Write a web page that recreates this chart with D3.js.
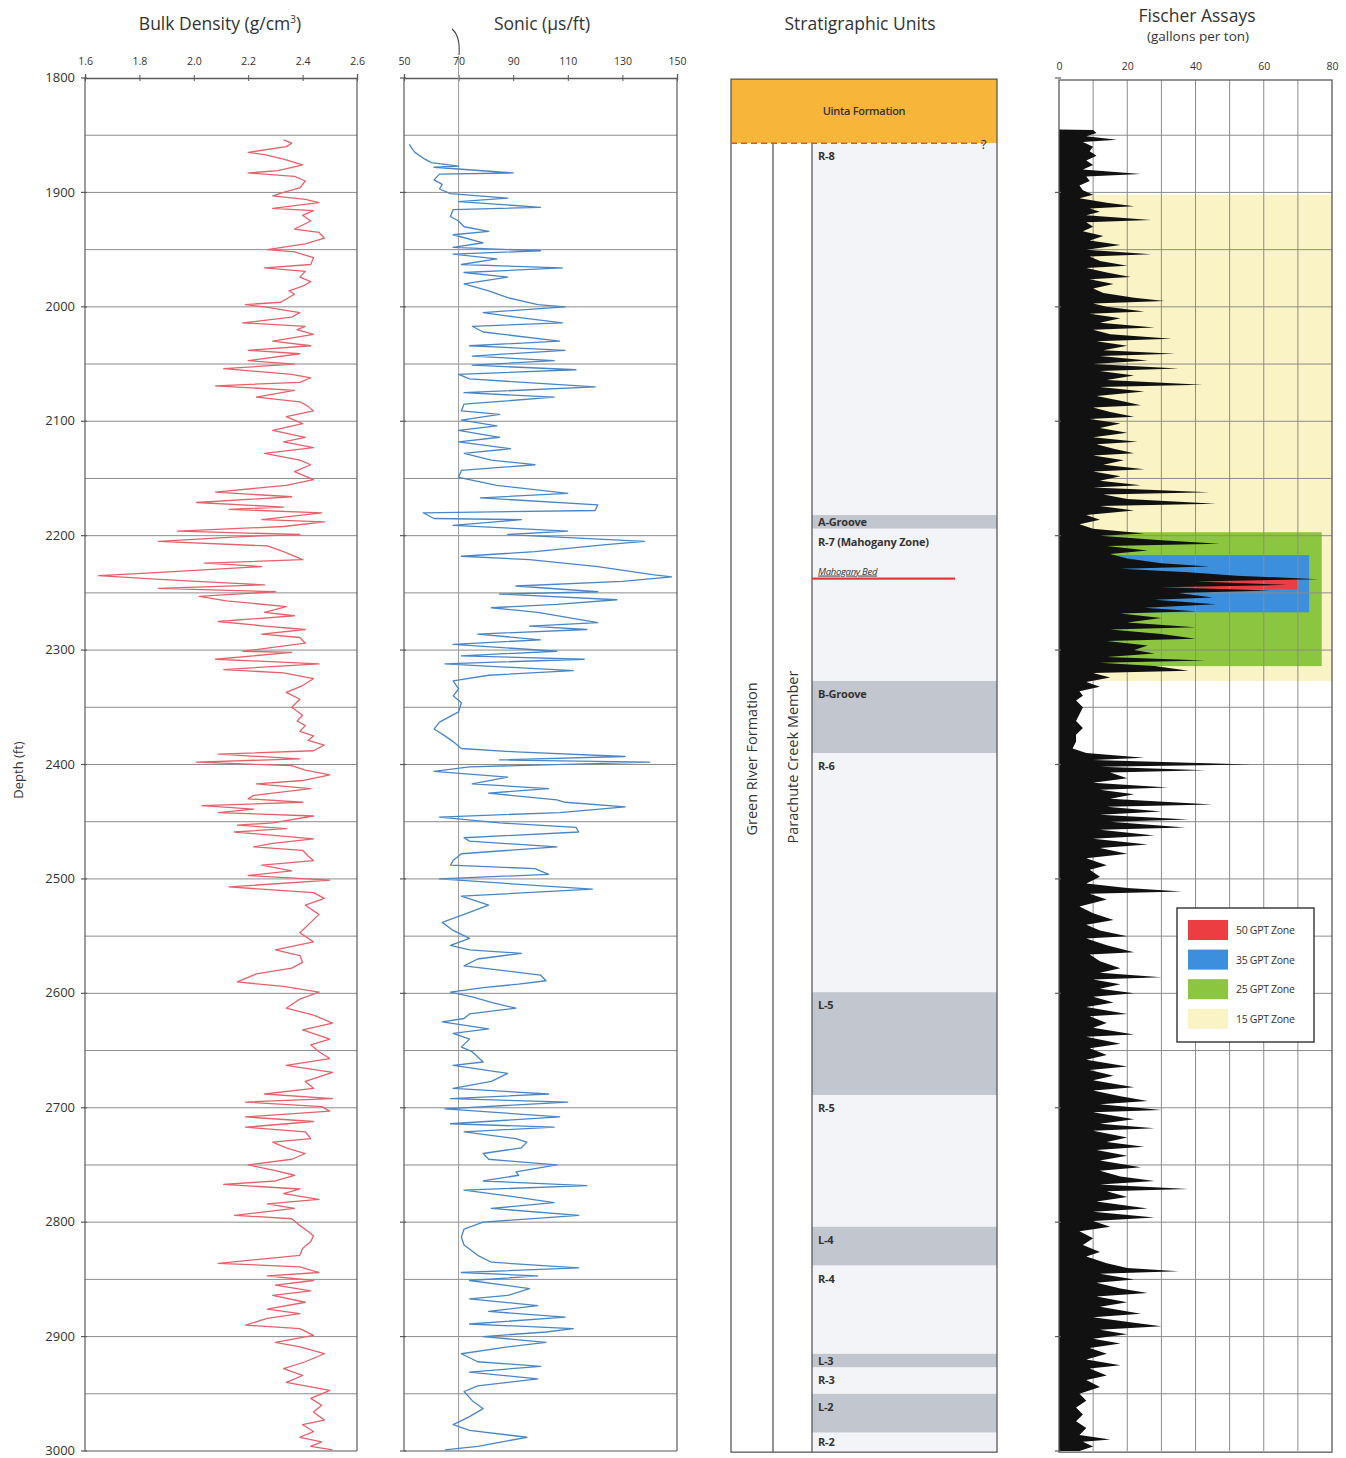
<!DOCTYPE html>
<html>
<head>
<meta charset="utf-8">
<script src="https://cdn.jsdelivr.net/npm/d3@7"></script>
<style>
  body { margin: 0; background: #fff; }
  svg text { font-family: "Open Sans", "Noto Sans", sans-serif; fill: #333; }
</style>
</head>
<body>
<svg id="chart" width="1346" height="1458"></svg>
<script>
// ---------- Data ----------
// Depth tick labels (ft) and 50-ft grid depths
const depthTicks = [1800, 1900, 2000, 2100, 2200, 2300, 2400, 2500, 2600, 2700, 2800, 2900, 3000];
const gridDepths = [1850, 1900, 1950, 2000, 2050, 2100, 2150, 2200, 2250, 2300, 2350, 2400, 2450,
                    2500, 2550, 2600, 2650, 2700, 2750, 2800, 2850, 2900, 2950];
const densityTicks = [1.6, 1.8, 2.0, 2.2, 2.4, 2.6];
const sonicTicks = [50, 70, 90, 110, 130, 150];
const fischerTicks = [0, 20, 40, 60, 80];
const fischerGrid = [10, 20, 30, 40, 50, 60, 70];

// Bulk density log: [depth ft, g/cm3]
const densityLog = [
  [1854,2.33],[1857,2.36],[1860,2.34],[1865,2.20],[1867,2.26],[1871,2.33],[1876,2.40],[1881,2.31],
  [1883,2.20],[1886,2.37],[1890,2.41],[1896,2.39],[1900,2.33],[1903,2.29],[1906,2.41],[1909,2.46],
  [1914,2.29],[1916,2.44],[1920,2.40],[1925,2.43],[1932,2.37],[1935,2.46],[1940,2.48],[1945,2.41],
  [1950,2.27],[1952,2.37],[1957,2.44],[1963,2.43],[1966,2.26],[1969,2.41],[1974,2.39],[1978,2.43],
  [1982,2.40],[1986,2.35],[1989,2.37],[1996,2.32],[1998,2.19],[2000,2.26],[2005,2.39],[2009,2.36],
  [2014,2.18],[2017,2.41],[2020,2.38],[2024,2.44],[2030,2.29],[2034,2.43],[2038,2.20],[2041,2.39],
  [2047,2.20],[2050,2.37],[2054,2.11],[2059,2.36],[2062,2.43],[2066,2.39],[2069,2.08],[2073,2.37],
  [2079,2.23],[2083,2.39],[2087,2.42],[2091,2.44],[2096,2.34],[2102,2.40],[2108,2.29],[2114,2.41],
  [2118,2.33],[2123,2.44],[2128,2.26],[2134,2.39],[2138,2.43],[2144,2.37],[2151,2.44],[2156,2.34],
  [2162,2.08],[2166,2.36],[2171,2.01],[2175,2.33],[2177,2.13],[2180,2.47],[2186,2.25],[2188,2.48],
  [2192,2.33],[2196,1.94],[2199,2.39],[2201,2.16],[2205,1.87],[2209,2.27],[2214,2.33],[2221,2.40],
  [2224,2.04],[2227,2.25],[2233,1.81],[2235,1.65],[2238,1.86],[2240,2.01],[2243,2.26],[2246,1.87],
  [2249,2.30],[2253,2.02],[2257,2.12],[2262,2.34],[2267,2.26],[2270,2.37],[2275,2.09],[2279,2.26],
  [2282,2.41],[2286,2.25],[2289,2.39],[2294,2.41],[2301,2.18],[2302,2.36],[2308,2.08],[2312,2.46],
  [2317,2.11],[2320,2.33],[2325,2.44],[2331,2.40],[2337,2.34],[2343,2.39],[2350,2.36],[2357,2.40],
  [2362,2.38],[2366,2.41],[2371,2.39],[2375,2.44],[2379,2.42],[2383,2.48],[2388,2.44],[2391,2.09],
  [2395,2.39],[2398,2.01],[2401,2.36],[2405,2.41],[2409,2.50],[2414,2.40],[2417,2.23],[2421,2.43],
  [2427,2.22],[2430,2.20],[2433,2.40],[2436,2.03],[2439,2.22],[2442,2.09],[2445,2.44],[2451,2.29],
  [2453,2.16],[2456,2.34],[2459,2.15],[2465,2.44],[2469,2.29],[2472,2.22],[2475,2.40],[2480,2.42],
  [2484,2.44],[2488,2.25],[2493,2.36],[2497,2.20],[2501,2.50],[2507,2.13],[2512,2.44],[2517,2.48],
  [2523,2.41],[2531,2.46],[2538,2.43],[2547,2.39],[2555,2.44],[2562,2.30],[2567,2.39],[2573,2.40],
  [2578,2.36],[2583,2.23],[2590,2.16],[2594,2.33],[2599,2.46],[2605,2.39],[2613,2.34],[2619,2.44],
  [2626,2.51],[2632,2.40],[2640,2.50],[2645,2.43],[2651,2.46],[2657,2.50],[2663,2.34],[2669,2.51],
  [2677,2.41],[2683,2.44],[2688,2.26],[2692,2.51],[2695,2.19],[2699,2.47],[2703,2.50],[2708,2.19],
  [2712,2.44],[2717,2.19],[2721,2.41],[2727,2.43],[2730,2.29],[2735,2.34],[2740,2.41],[2745,2.36],
  [2750,2.20],[2755,2.30],[2759,2.37],[2764,2.30],[2767,2.11],[2771,2.39],[2775,2.33],[2780,2.46],
  [2784,2.27],[2788,2.37],[2794,2.15],[2797,2.36],[2803,2.39],[2808,2.42],[2812,2.44],[2817,2.43],
  [2823,2.40],[2829,2.39],[2836,2.09],[2839,2.39],[2844,2.46],[2847,2.27],[2851,2.44],[2855,2.30],
  [2860,2.43],[2864,2.29],[2870,2.41],[2876,2.27],[2880,2.39],[2884,2.27],[2890,2.19],[2893,2.39],
  [2899,2.44],[2905,2.30],[2909,2.39],[2915,2.48],[2922,2.41],[2928,2.33],[2934,2.40],[2940,2.34],
  [2947,2.50],[2954,2.43],[2960,2.47],[2966,2.44],[2973,2.48],[2977,2.40],[2983,2.44],[2988,2.39],
  [2992,2.47],[2996,2.43],[2999,2.51]
];

// Sonic log: [depth ft, microseconds per ft]
const sonicLog = [
  [1858,52],[1862,53],[1865,54],[1870,57],[1874,60],[1877,70],[1878,61],[1883,90],[1884,63],
  [1889,61],[1893,64],[1897,63],[1901,67],[1905,88],[1908,70],[1913,100],[1915,68],[1921,67],
  [1925,70],[1930,72],[1934,81],[1937,68],[1944,79],[1948,68],[1951,100],[1954,68],[1958,84],
  [1963,71],[1966,108],[1970,72],[1974,88],[1980,72],[1986,81],[1992,88],[1998,99],[2000,109],
  [2005,79],[2009,91],[2014,108],[2017,75],[2022,79],[2030,107],[2034,74],[2038,109],[2043,75],
  [2047,105],[2051,75],[2055,113],[2059,70],[2063,74],[2070,120],[2075,72],[2079,105],[2085,72],
  [2091,71],[2094,85],[2099,71],[2104,84],[2108,70],[2114,85],[2118,70],[2124,89],[2128,72],
  [2134,82],[2138,98],[2143,71],[2149,70],[2156,84],[2163,110],[2167,78],[2173,121],[2178,120],
  [2180,57],[2185,61],[2186,93],[2191,68],[2196,110],[2199,88],[2205,138],[2208,123],[2214,98],
  [2218,71],[2221,96],[2227,121],[2234,141],[2236,148],[2240,130],[2244,91],[2249,121],[2251,85],
  [2256,128],[2260,106],[2263,82],[2267,99],[2276,121],[2279,96],[2282,117],[2286,77],[2291,100],
  [2295,68],[2301,106],[2305,71],[2308,116],[2312,65],[2318,112],[2322,81],[2327,68],[2334,70],
  [2340,68],[2346,71],[2354,70],[2363,63],[2369,61],[2375,65],[2380,68],[2386,71],[2389,91],
  [2393,131],[2396,85],[2398,140],[2402,74],[2406,61],[2411,88],[2417,75],[2421,103],[2425,81],
  [2431,106],[2433,109],[2437,131],[2442,107],[2446,63],[2451,85],[2455,113],[2459,114],[2464,72],
  [2467,74],[2472,106],[2478,71],[2484,68],[2488,67],[2491,98],[2496,103],[2500,63],[2509,119],
  [2515,71],[2523,81],[2531,72],[2538,64],[2545,68],[2552,74],[2558,67],[2562,74],[2565,93],
  [2570,77],[2576,72],[2584,100],[2589,102],[2592,92],[2595,79],[2599,67],[2603,75],[2608,82],
  [2613,91],[2618,74],[2622,72],[2625,64],[2631,81],[2635,68],[2640,74],[2647,71],[2651,75],
  [2660,79],[2663,68],[2670,88],[2677,82],[2683,68],[2688,103],[2692,67],[2695,110],[2701,65],
  [2708,107],[2714,67],[2717,105],[2721,72],[2727,91],[2730,95],[2735,93],[2740,79],[2745,81],
  [2750,106],[2756,91],[2759,92],[2764,79],[2768,117],[2772,72],[2777,88],[2783,105],[2788,82],
  [2794,114],[2800,79],[2806,72],[2813,71],[2820,72],[2829,77],[2835,82],[2840,114],[2844,71],
  [2847,99],[2851,74],[2858,96],[2864,88],[2867,74],[2873,99],[2878,81],[2883,109],[2889,74],
  [2893,112],[2896,102],[2900,79],[2905,102],[2909,88],[2915,71],[2922,77],[2926,100],[2931,74],
  [2937,99],[2943,77],[2948,72],[2956,75],[2963,79],[2970,74],[2977,68],[2982,74],[2988,95],
  [2992,86],[2996,77],[2999,65]
];

// Fischer assay oil yield: [depth ft, gallons per ton]
const fischerAssay = [
  [1845,0],[1845.5,10],[1848,11],[1851,8],[1854,17],[1856,7],[1860,10],[1864,9],[1868,11],[1872,8],
  [1876,10],[1880,7],[1884,24],[1886,8],[1890,9],[1894,6],[1898,7],[1902,10],[1905,6],[1909,14],
  [1912,22],[1914,9],[1917,12],[1920,8],[1924,27],[1926,8],[1930,10],[1934,7],[1938,13],[1942,9],
  [1946,18],[1950,8],[1954,27],[1956,9],[1960,12],[1964,20],[1966,8],[1970,14],[1974,21],[1976,9],
  [1980,16],[1984,10],[1988,13],[1992,22],[1995,31],[1997,10],[2000,14],[2004,25],[2006,9],[2010,18],
  [2014,12],[2018,28],[2020,10],[2024,15],[2028,33],[2030,11],[2034,20],[2038,13],[2041,34],[2043,12],
  [2047,26],[2050,10],[2054,35],[2056,12],[2060,22],[2064,14],[2068,42],[2070,12],[2074,25],[2078,11],
  [2082,18],[2086,24],[2088,10],[2092,15],[2096,22],[2098,9],[2102,18],[2106,12],[2110,20],[2114,10],
  [2118,23],[2120,11],[2124,16],[2128,22],[2130,10],[2134,19],[2138,13],[2142,25],[2144,10],[2148,18],
  [2152,12],[2156,24],[2158,10],[2162,44],[2164,13],[2168,20],[2172,46],[2174,12],[2178,22],[2182,8],
  [2186,12],[2190,6],[2194,10],[2198,25],[2200,12],[2204,30],[2207,47],[2209,14],[2213,26],[2216,15],
  [2220,20],[2224,30],[2227,44],[2229,18],[2232,38],[2235,52],[2238,76],[2240,40],[2243,67],[2245,30],
  [2248,62],[2250,35],[2254,45],[2256,28],[2260,46],[2263,25],[2266,40],[2268,18],[2272,30],[2276,20],
  [2280,40],[2282,15],[2286,30],[2290,40],[2292,14],[2296,26],[2300,22],[2303,28],[2306,14],[2309,43],
  [2311,12],[2314,28],[2318,38],[2320,10],[2324,15],[2328,8],[2332,12],[2336,6],[2340,7],[2344,5],
  [2350,7],[2356,6],[2362,5],[2368,7],[2374,5],[2380,5],[2386,4],[2390,8],[2394,25],[2396,10],
  [2400,56],[2402,12],[2405,43],[2407,15],[2412,20],[2416,10],[2420,32],[2422,12],[2426,22],[2430,15],
  [2435,45],[2437,14],[2441,30],[2444,12],[2448,38],[2450,15],[2455,37],[2457,12],[2462,28],[2465,10],
  [2470,26],[2473,12],[2478,20],[2482,8],[2488,14],[2492,9],[2498,12],[2504,8],[2508,20],[2511,36],
  [2513,9],[2518,14],[2524,6],[2530,10],[2536,16],[2540,8],[2545,12],[2550,20],[2552,8],[2558,14],
  [2564,22],[2566,9],[2572,12],[2578,18],[2582,12],[2586,30],[2588,10],[2592,18],[2596,12],[2600,22],
  [2603,10],[2608,16],[2612,8],[2618,20],[2620,9],[2626,14],[2630,10],[2636,22],[2638,8],[2644,18],
  [2648,9],[2654,14],[2658,8],[2664,20],[2667,9],[2672,16],[2676,10],[2682,22],[2685,10],[2690,18],
  [2694,26],[2697,12],[2702,30],[2704,10],[2710,22],[2714,12],[2718,28],[2720,10],[2726,20],[2730,14],
  [2734,25],[2737,11],[2742,20],[2746,12],[2752,24],[2755,12],[2760,18],[2764,28],[2767,12],[2771,38],
  [2773,14],[2778,20],[2782,11],[2788,26],[2791,10],[2796,28],[2799,10],[2804,15],[2808,6],[2814,10],
  [2820,7],[2826,12],[2830,8],[2836,14],[2840,20],[2843,35],[2845,12],[2850,22],[2853,11],[2858,18],
  [2862,26],[2865,11],[2870,20],[2874,12],[2880,24],[2883,10],[2888,22],[2891,30],[2894,12],[2898,20],
  [2902,10],[2906,18],[2910,9],[2915,14],[2920,8],[2925,18],[2928,9],[2934,14],[2938,8],[2944,12],
  [2950,6],[2956,8],[2962,5],[2968,7],[2974,5],[2980,8],[2986,6],[2990,15],[2992,7],[2996,10],[3000,6]
];

// Oil-shale grade zones (depth interval, extent in gallons per ton)
const gptZones = [
  { label: "15 GPT Zone", top: 1902, base: 2327, extent: 80, color: "#faf3c6" },
  { label: "25 GPT Zone", top: 2197, base: 2314, extent: 77, color: "#8cc540" },
  { label: "35 GPT Zone", top: 2217, base: 2267, extent: 73.3, color: "#3c8fdc" },
  { label: "50 GPT Zone", top: 2237, base: 2247, extent: 70, color: "#ec3d42" }
];
const legendOrder = ["50 GPT Zone", "35 GPT Zone", "25 GPT Zone", "15 GPT Zone"];

// Stratigraphic units (depth ft); lean zones are grey grooves
const uintaBase = 1857;
const stratUnits = [
  { name: "R-8", top: 1857, base: 2182, lean: false },
  { name: "A-Groove", top: 2182, base: 2194, lean: true },
  { name: "R-7 (Mahogany Zone)", top: 2194, base: 2327, lean: false },
  { name: "B-Groove", top: 2327, base: 2390, lean: true },
  { name: "R-6", top: 2390, base: 2599, lean: false },
  { name: "L-5", top: 2599, base: 2689, lean: true },
  { name: "R-5", top: 2689, base: 2804, lean: false },
  { name: "L-4", top: 2804, base: 2838, lean: true },
  { name: "R-4", top: 2838, base: 2915, lean: false },
  { name: "L-3", top: 2915, base: 2927, lean: true },
  { name: "R-3", top: 2927, base: 2950, lean: false },
  { name: "L-2", top: 2950, base: 2984, lean: true },
  { name: "R-2", top: 2984, base: 3000, lean: false }
];
const mahoganyBed = 2237.5;

// ---------- Layout ----------
const svg = d3.select("#chart");
const y = d3.scaleLinear().domain([1800, 3000]).range([78, 1451]);
const xDen = d3.scaleLinear().domain([1.6, 2.6]).range([85, 357]);
const xSon = d3.scaleLinear().domain([50, 150]).range([404, 677]);
const xFis = d3.scaleLinear().domain([0, 80]).range([1059, 1332]);
const strat = { x0: 731, x1: 997, c1: 773, c2: 812 };

const gridColor = "#8c8c8c", frameColor = "#5a5a5a";

// Titles
function title(x, yy, txt, size) {
  return svg.append("text").attr("x", x).attr("y", yy).attr("text-anchor", "middle")
    .attr("font-size", size).attr("fill", "#3a3a3a").text(txt);
}
const t1 = title(220, 30, "Bulk Density (g/cm", 17.5);
t1.append("tspan").attr("font-size", 10).attr("dy", -7).text("3");
t1.append("tspan").attr("dy", 7).text(")");
title(542, 30, "Sonic (µs/ft)", 17.5);
title(860, 30, "Stratigraphic Units", 17.5);
title(1197, 22, "Fischer Assays", 17.5);
title(1198, 41, "(gallons per ton)", 13.5);

// Depth label
svg.append("text").attr("transform", "translate(23,770) rotate(-90)")
  .attr("text-anchor", "middle").attr("font-size", 13).text("Depth (ft)");

// Generic log track: grid, frame, top axis with cross ticks
function track(xs, ticks, fmt, topY) {
  const [a, b] = xs.range();
  const g = svg.append("g");
  g.selectAll("line.grid").data(gridDepths).join("line")
    .attr("x1", a).attr("x2", b).attr("y1", d => y(d)).attr("y2", d => y(d))
    .attr("stroke", gridColor).attr("stroke-width", 1);
  g.append("line").attr("x1", a).attr("x2", a).attr("y1", topY).attr("y2", y(3000))
    .attr("stroke", frameColor).attr("stroke-width", 1.2);
  g.append("line").attr("x1", b).attr("x2", b).attr("y1", topY).attr("y2", y(3000))
    .attr("stroke", frameColor).attr("stroke-width", 1.2);
  g.append("line").attr("x1", a).attr("x2", b).attr("y1", y(3000)).attr("y2", y(3000))
    .attr("stroke", frameColor).attr("stroke-width", 1.2);
  // small depth ticks on the left edge
  g.selectAll("line.dt").data(depthTicks).join("line")
    .attr("x1", a - 4).attr("x2", a + 2).attr("y1", d => y(d)).attr("y2", d => y(d))
    .attr("stroke", frameColor).attr("stroke-width", 1.2);
  const ax = svg.append("g").attr("transform", `translate(0,${topY})`)
    .call(d3.axisTop(xs).tickValues(ticks).tickFormat(fmt).tickSize(4).tickPadding(9));
  ax.select(".domain").attr("stroke", frameColor).attr("stroke-width", 1.3);
  ax.selectAll(".tick line").attr("y1", 3).attr("y2", -3).attr("stroke", frameColor);
  ax.selectAll(".tick text").attr("font-size", 10.5).attr("fill", "#444")
    .attr("font-family", "'Open Sans', sans-serif");
  return g;
}

track(xDen, densityTicks, d3.format(".1f"), y(1800));
track(xSon, sonicTicks, d3.format("d"), y(1800));

// Depth axis
const dAx = svg.append("g").attr("transform", `translate(${xDen(1.6)},0)`)
  .call(d3.axisLeft(y).tickValues(depthTicks).tickFormat(d3.format("d")).tickSize(0).tickPadding(10));
dAx.select(".domain").remove();
dAx.selectAll(".tick text").attr("font-size", 13).attr("fill", "#333").attr("dy", "0.28em")
  .attr("font-family", "'Open Sans', sans-serif");

// Sonic 70 reference line with its pointer mark
svg.append("line").attr("x1", xSon(70)).attr("x2", xSon(70)).attr("y1", 56).attr("y2", y(3000))
  .attr("stroke", "#9a9a9a").attr("stroke-width", 1);
svg.append("path").attr("d", "M452,29 C458,34 460,43 459,55")
  .attr("fill", "none").attr("stroke", "#444").attr("stroke-width", 1.1);

// Curves
const denLine = d3.line().x(d => xDen(d[1])).y(d => y(d[0]));
svg.append("path").datum(densityLog).attr("d", denLine)
  .attr("fill", "none").attr("stroke", "#e5616b").attr("stroke-width", 1.3).attr("stroke-linejoin", "round");

const sonLine = d3.line().x(d => xSon(d[1])).y(d => y(d[0]));
svg.append("path").datum(sonicLog).attr("d", sonLine)
  .attr("fill", "none").attr("stroke", "#4a86c6").attr("stroke-width", 1.3).attr("stroke-linejoin", "round");

// ---------- Stratigraphic column ----------
const sg = svg.append("g");
sg.append("rect").attr("x", strat.x0).attr("y", y(1801)).attr("width", strat.x1 - strat.x0)
  .attr("height", y(uintaBase) - y(1801)).attr("fill", "#f7b63a");
sg.selectAll("rect.unit").data(stratUnits).join("rect")
  .attr("x", strat.c2).attr("y", d => y(d.top)).attr("width", strat.x1 - strat.c2)
  .attr("height", d => y(d.base) - y(d.top))
  .attr("fill", d => d.lean ? "#c2c6ce" : "#f3f4f8");
sg.append("rect").attr("x", strat.x0).attr("y", y(1801)).attr("width", strat.x1 - strat.x0)
  .attr("height", y(3001) - y(1801)).attr("fill", "none").attr("stroke", frameColor).attr("stroke-width", 1.3);
[strat.c1, strat.c2].forEach(cx => sg.append("line").attr("x1", cx).attr("x2", cx)
  .attr("y1", y(uintaBase)).attr("y2", y(3001)).attr("stroke", frameColor).attr("stroke-width", 1.3));
sg.append("line").attr("x1", strat.x0).attr("x2", strat.x1 - 14).attr("y1", y(uintaBase)).attr("y2", y(uintaBase))
  .attr("stroke", "#d5553c").attr("stroke-width", 1.6).attr("stroke-dasharray", "6,4");
sg.append("text").attr("x", strat.x1 - 16).attr("y", y(uintaBase) + 6).attr("font-size", 13).text("?");
sg.append("text").attr("x", (strat.x0 + strat.x1) / 2).attr("y", (y(1801) + y(uintaBase)) / 2 + 4)
  .attr("text-anchor", "middle").attr("font-size", 11).attr("font-weight", 600).attr("fill", "#3a2a10")
  .attr("letter-spacing", "-0.3").text("Uinta Formation");
sg.selectAll("text.unit").data(stratUnits).join("text")
  .attr("x", strat.c2 + 6)
  .attr("y", d => Math.min(y(d.top) + 17, (y(d.top) + y(d.base)) / 2 + 4))
  .attr("font-size", 11).attr("font-weight", 700).attr("fill", "#222").attr("letter-spacing", "-0.2")
  .text(d => d.name);
sg.append("line").attr("x1", strat.c2).attr("x2", 955).attr("y1", y(mahoganyBed)).attr("y2", y(mahoganyBed))
  .attr("stroke", "#e8383e").attr("stroke-width", 2.2);
sg.append("text").attr("x", strat.c2 + 6).attr("y", y(mahoganyBed) - 4).attr("font-size", 9.5)
  .attr("font-style", "italic").attr("text-decoration", "underline").attr("fill", "#333")
  .attr("letter-spacing", "-0.3").text("Mahogany Bed");
sg.append("text").attr("transform", `translate(${(strat.x0 + strat.c1) / 2 + 5},759) rotate(-90)`)
  .attr("text-anchor", "middle").attr("font-size", 14.5).text("Green River Formation");
sg.append("text").attr("transform", `translate(${(strat.c1 + strat.c2) / 2 + 5},757) rotate(-90)`)
  .attr("text-anchor", "middle").attr("font-size", 14.5).text("Parachute Creek Member");

// ---------- Fischer assay track ----------
const fg = svg.append("g");
const fTop = 80;
fg.selectAll("rect.zone").data(gptZones).join("rect")
  .attr("x", xFis(0)).attr("y", d => y(d.top)).attr("width", d => xFis(d.extent) - xFis(0))
  .attr("height", d => y(d.base) - y(d.top)).attr("fill", d => d.color);
fg.selectAll("line.vg").data(fischerGrid).join("line")
  .attr("x1", d => xFis(d)).attr("x2", d => xFis(d)).attr("y1", fTop).attr("y2", y(3000))
  .attr("stroke", gridColor).attr("stroke-width", 1);
fg.selectAll("line.hg").data(gridDepths).join("line")
  .attr("x1", xFis(0)).attr("x2", xFis(80)).attr("y1", d => y(d)).attr("y2", d => y(d))
  .attr("stroke", gridColor).attr("stroke-width", 1);
const fArea = d3.area().y(d => y(d[0])).x0(xFis(0)).x1(d => xFis(d[1]));
fg.append("path").datum(fischerAssay).attr("d", fArea).attr("fill", "#111");
fg.append("rect").attr("x", xFis(0)).attr("y", fTop).attr("width", xFis(80) - xFis(0))
  .attr("height", y(3001) - fTop).attr("fill", "none").attr("stroke", frameColor).attr("stroke-width", 1.3);
fg.selectAll("line.dt").data(depthTicks).join("line")
  .attr("x1", xFis(0) - 4).attr("x2", xFis(0) + 2).attr("y1", d => y(d)).attr("y2", d => y(d))
  .attr("stroke", frameColor).attr("stroke-width", 1.2);
const fAx = svg.append("g").attr("transform", `translate(0,${fTop})`)
  .call(d3.axisTop(xFis).tickValues(fischerTicks).tickSize(0).tickPadding(10));
fAx.select(".domain").remove();
fAx.selectAll(".tick text").attr("font-size", 10.5).attr("fill", "#444")
  .attr("font-family", "'Open Sans', sans-serif");

// Legend
const lg = svg.append("g").attr("transform", "translate(1177,908)");
lg.append("rect").attr("width", 137).attr("height", 134).attr("fill", "#fff")
  .attr("stroke", "#333").attr("stroke-width", 1.4);
const legendItems = legendOrder.map(l => gptZones.find(z => z.label === l));
const li = lg.selectAll("g.item").data(legendItems).join("g")
  .attr("transform", (d, i) => `translate(11,${12 + i * 29.6})`);
li.append("rect").attr("width", 40).attr("height", 20).attr("fill", d => d.color);
li.append("text").attr("x", 48).attr("y", 14).attr("font-size", 10.5).attr("fill", "#333")
  .attr("letter-spacing", "-0.3").text(d => d.label);
</script>
</body>
</html>
